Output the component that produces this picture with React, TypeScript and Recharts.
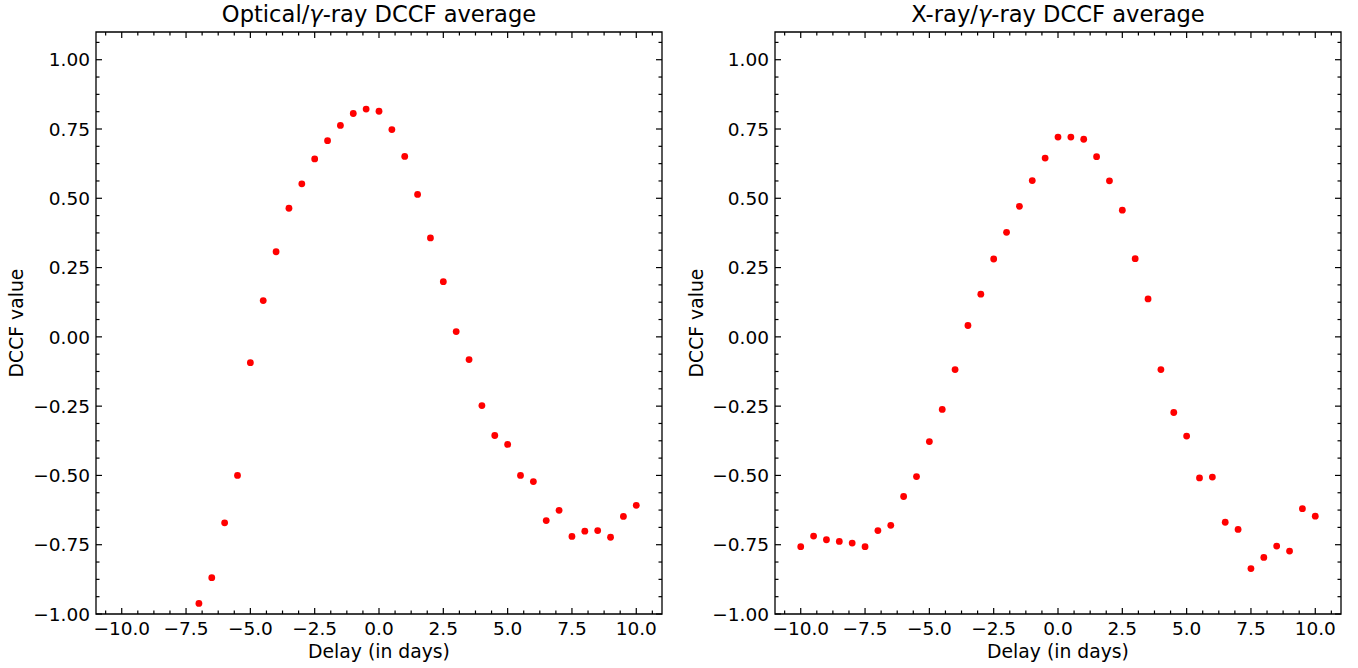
import { ScatterChart, Scatter, XAxis, YAxis, ReferenceArea } from 'recharts'

const opticalDelay = [
  -7, -6.5, -6, -5.5, -5, -4.5, -4, -3.5, -3, -2.5, -2, -1.5, -1, -0.5, 0, 0.5, 1, 1.5,
  2, 2.5, 3, 3.5, 4, 4.5, 5, 5.5, 6, 6.5, 7, 7.5, 8, 8.5, 9, 9.5, 10,
]
const opticalDccf = [
  -0.962, -0.869, -0.671, -0.5, -0.093, 0.131, 0.307, 0.464, 0.552, 0.642, 0.708, 0.763,
  0.806, 0.822, 0.814, 0.748, 0.651, 0.514, 0.357, 0.199, 0.019, -0.082, -0.248, -0.356,
  -0.388, -0.5, -0.522, -0.663, -0.626, -0.72, -0.701, -0.699, -0.723, -0.648, -0.608,
]

const xrayDelay = [
  -10, -9.5, -9, -8.5, -8, -7.5, -7, -6.5, -6, -5.5, -5, -4.5, -4, -3.5, -3, -2.5, -2,
  -1.5, -1, -0.5, 0, 0.5, 1, 1.5, 2, 2.5, 3, 3.5, 4, 4.5, 5, 5.5, 6, 6.5, 7, 7.5, 8, 8.5,
  9, 9.5, 10,
]
const xrayDccf = [
  -0.757, -0.719, -0.732, -0.738, -0.744, -0.757, -0.699, -0.68, -0.576, -0.504, -0.378,
  -0.262, -0.118, 0.041, 0.154, 0.281, 0.377, 0.471, 0.564, 0.645, 0.721, 0.721, 0.713,
  0.65, 0.563, 0.457, 0.282, 0.137, -0.118, -0.273, -0.358, -0.509, -0.506, -0.669,
  -0.695, -0.836, -0.796, -0.755, -0.773, -0.62, -0.647,
]

// major ticks every 2.5 / 0.25, four minor subdivisions
const xMajorStep = 2.5
const yMajorStep = 0.25
const xTicks = Array.from({ length: 35 }, (_, i) => -10.625 + i * 0.625)
const yTicks = Array.from({ length: 34 }, (_, i) => -1 + i * 0.0625)

const X_DOMAIN: [number, number] = [-11, 11]
const Y_DOMAIN: [number, number] = [-1, 1.1]

const FONT = '"DejaVu Sans", sans-serif'
const PLOT_TOP = 32
const PLOT_H = 582
const PLOT_W = 566

const isMajor = (v: number, step: number) => Math.abs(v / step - Math.round(v / step)) < 1e-6
const fmt = (v: number, digits: number) => {
  const s = Math.abs(v).toFixed(digits)
  return Math.abs(v) < 1e-9 ? s : (v < 0 ? '\u2212' : '') + s
}

function XTick(props: any) {
  const { x, y, payload } = props
  const major = isMajor(payload.value, xMajorStep)
  const len = major ? 6 : 3.5
  return (
    <g>
      <line x1={x} x2={x} y1={y} y2={y - len} stroke="#000" strokeWidth={1.2} />
      <line x1={x} x2={x} y1={PLOT_TOP} y2={PLOT_TOP + len} stroke="#000" strokeWidth={1.2} />
      {major && (
        <text x={x} y={y + 20.8} textAnchor="middle" fontSize={18.5} fontFamily={FONT} fill="#000">
          {fmt(payload.value, 1)}
        </text>
      )}
    </g>
  )
}

function YTick(props: any) {
  const { x, y, payload } = props
  const major = isMajor(payload.value, yMajorStep)
  const len = major ? 6 : 3.5
  const right = x + PLOT_W
  return (
    <g>
      <line x1={x} x2={x + len} y1={y} y2={y} stroke="#000" strokeWidth={1.2} />
      <line x1={right} x2={right - len} y1={y} y2={y} stroke="#000" strokeWidth={1.2} />
      {major && (
        <text x={x - 6} y={y} dy="0.36em" textAnchor="end" fontSize={18.5} fontFamily={FONT} fill="#000">
          {fmt(payload.value, 2)}
        </text>
      )}
    </g>
  )
}

const Dot = (p: any) => <circle cx={p.cx} cy={p.cy} r={3.4} fill="#ff0000" />

function Panel({
  left,
  width,
  yAxisWidth,
  title,
  delay,
  dccf,
}: {
  left: number
  width: number
  yAxisWidth: number
  title: string
  delay: number[]
  dccf: number[]
}) {
  const data = delay.map((d, i) => ({ delay: d, dccf: dccf[i] }))
  const rightMargin = width - yAxisWidth - PLOT_W
  const cx = yAxisWidth + PLOT_W / 2
  return (
    <div style={{ position: 'absolute', left, top: 0, width, height: 668 }}>
      <svg width={width} height={30} style={{ position: 'absolute', left: 0, top: 0 }}>
        <text x={cx} y={22} textAnchor="middle" fontSize={22.6} fontFamily={FONT} fill="#000">
          {title}/<tspan fontStyle="italic">γ</tspan>-ray DCCF average
        </text>
      </svg>
      <ScatterChart
        width={width}
        height={668}
        margin={{ top: PLOT_TOP, right: rightMargin, bottom: 0, left: 0 }}
        style={{ position: 'absolute', left: 0, top: 0 }}
      >
        <XAxis
          type="number"
          dataKey="delay"
          domain={X_DOMAIN}
          allowDataOverflow
          ticks={xTicks}
          interval={0}
          tick={<XTick />}
          tickLine={false}
          tickSize={0}
          tickMargin={0}
          axisLine={false}
          height={668 - PLOT_TOP - PLOT_H}
          label={{
            value: 'Delay (in days)',
            position: 'insideBottom',
            offset: 10.5,
            fill: '#000',
            fontSize: 18.8,
            fontFamily: FONT,
          }}
        />
        <YAxis
          type="number"
          dataKey="dccf"
          domain={Y_DOMAIN}
          allowDataOverflow
          ticks={yTicks}
          interval={0}
          tick={<YTick />}
          tickLine={false}
          tickSize={0}
          tickMargin={0}
          axisLine={false}
          width={yAxisWidth}
          label={{
            value: 'DCCF value',
            angle: -90,
            position: 'insideLeft',
            offset: 16,
            fill: '#000',
            fontSize: 18.8,
            fontFamily: FONT,
            style: { textAnchor: 'middle' },
          }}
        />
        <ReferenceArea
          x1={X_DOMAIN[0]}
          x2={X_DOMAIN[1]}
          y1={Y_DOMAIN[0]}
          y2={Y_DOMAIN[1]}
          fill="none"
          stroke="#000"
          strokeWidth={1.3}
          ifOverflow="visible"
        />
        <Scatter data={data} shape={<Dot />} isAnimationActive={false} />
      </ScatterChart>
    </div>
  )
}

export default function App() {
  return (
    <div
      style={{
        position: 'absolute',
        left: 0,
        top: 0,
        width: 1358,
        height: 668,
        background: '#fff',
        overflow: 'hidden',
      }}
    >
      <Panel left={0} width={680} yAxisWidth={96} title="Optical" delay={opticalDelay} dccf={opticalDccf} />
      <Panel left={680} width={678} yAxisWidth={95} title="X-ray" delay={xrayDelay} dccf={xrayDccf} />
    </div>
  )
}
